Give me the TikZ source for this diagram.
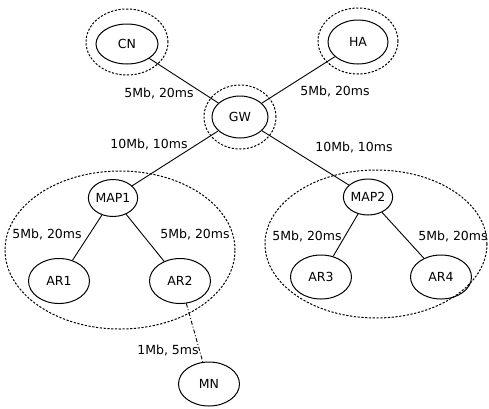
\documentclass[tikz,border=0pt]{standalone}
\usepackage{fontspec}
\setmainfont{DejaVu Sans}
\usetikzlibrary{shapes.geometric}
\begin{document}
\begin{tikzpicture}[x=1pt,y=-1pt,
  nd/.style={draw,ellipse,line width=1pt,inner sep=0pt,font=\fontsize{12.5}{13}\selectfont},
  ring/.style={draw,ellipse,line width=1pt,dash pattern=on 2.2pt off 1.6pt,inner sep=0pt},
  lbl/.style={font=\fontsize{12.5}{13}\selectfont,inner sep=0pt},
  link/.style={line width=0.9pt}]
\useasboundingbox (0,0) rectangle (489,408);
% outer dashed rings
\node[ring,minimum width=82pt,minimum height=66pt] (cnr) at (127,42) {};
\node[ring,minimum width=80pt,minimum height=66pt] (har) at (358,41) {};
\node[ring,minimum width=72pt,minimum height=64pt] (gwr) at (240,117) {};
\node[ring,minimum width=230pt,minimum height=158pt] (d1) at (120,250) {};
\node[ring,minimum width=222pt,minimum height=148pt] (d2) at (376,244) {};
% nodes
\node[nd,minimum width=62pt,minimum height=40pt] (cn) at (127,44) {CN};
\node[nd,minimum width=60pt,minimum height=44pt] (ha) at (358,42) {HA};
\node[nd,minimum width=56pt,minimum height=42pt] (gw) at (240,117) {GW};
\node[nd,minimum width=48pt,minimum height=37pt] (map1) at (113,198) {MAP1};
\node[nd,minimum width=46pt,minimum height=36pt] (map2) at (368,197) {MAP2};
\node[nd,minimum width=61pt,minimum height=45pt] (ar1) at (59,281) {AR1};
\node[nd,minimum width=61pt,minimum height=45pt] (ar2) at (180,281) {AR2};
\node[nd,minimum width=61pt,minimum height=44pt] (ar3) at (321,277) {AR3};
\node[nd,minimum width=61pt,minimum height=44pt] (ar4) at (441,277) {AR4};
\node[nd,minimum width=61pt,minimum height=44pt] (mn) at (209,384) {MN};
% links
\draw[link] (cn) -- (gw);
\draw[link] (ha) -- (gw);
\draw[link] (gw) -- (map1);
\draw[link] (gw) -- (map2);
\draw[link] (map1) -- (ar1);
\draw[link] (map1) -- (ar2);
\draw[link] (map2) -- (ar3);
\draw[link] (map2) -- (ar4);
\draw[link,dash pattern=on 4pt off 2pt on 1pt off 2pt] (ar2) -- (mn);
% labels
\node[lbl] (l1) at (159,93) {5Mb, 20ms};
\node[lbl] (l2) at (335,91) {5Mb, 20ms};
\node[lbl] (l3) at (149,144) {10Mb, 10ms};
\node[lbl] (l4) at (354,147) {10Mb, 10ms};
\node[lbl] (l5) at (47,234) {5Mb, 20ms};
\node[lbl] (l6) at (195,234) {5Mb, 20ms};
\node[lbl] (l7) at (307,236) {5Mb, 20ms};
\node[lbl] (l8) at (453,236) {5Mb, 20ms};
\node[lbl] (l9) at (168,350) {1Mb, 5ms};
\end{tikzpicture}
\end{document}
